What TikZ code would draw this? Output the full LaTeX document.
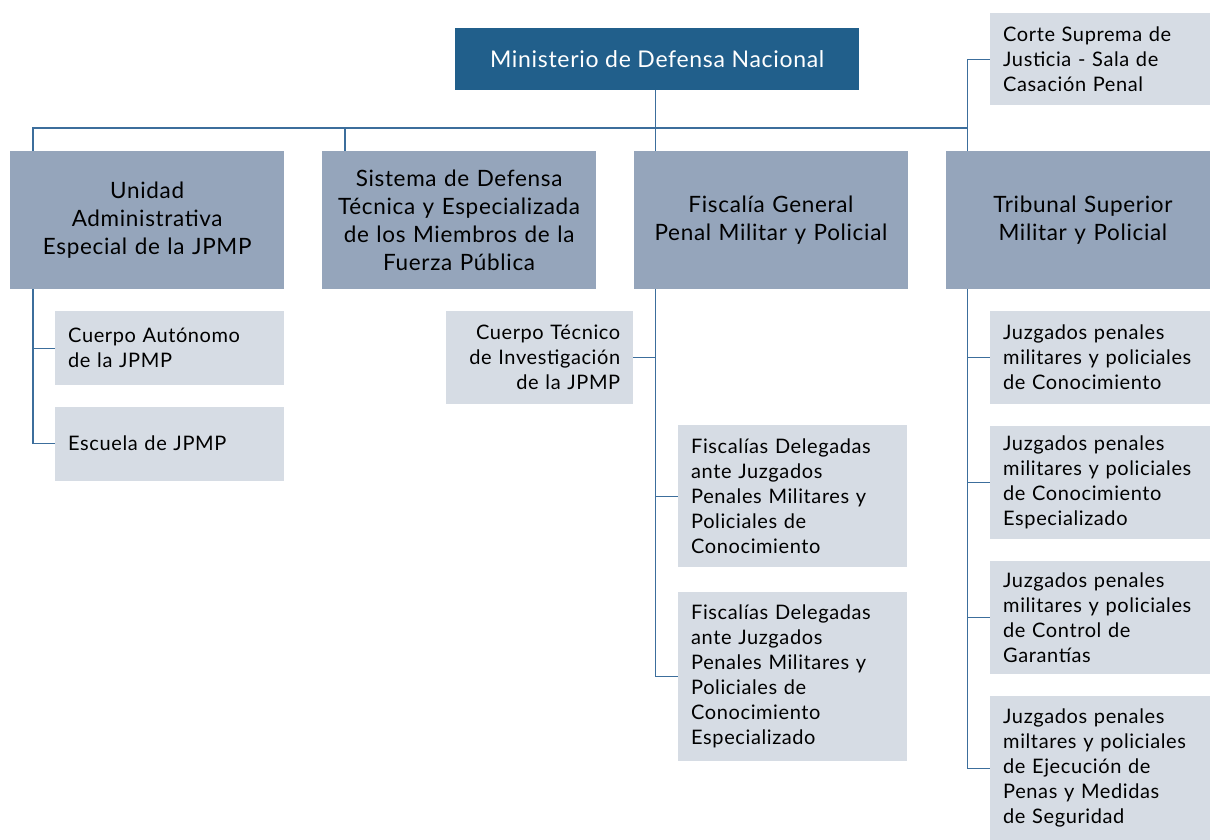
\documentclass[tikz,border=0pt]{standalone}
\usepackage{fontspec}
\setmainfont{Lato}[LetterSpace=3]
\usepackage{tikz}
\usetikzlibrary{positioning}

\definecolor{deepblue}{HTML}{215F8B}
\definecolor{midblue}{HTML}{95A5BB}
\definecolor{paleblue}{HTML}{D6DCE4}
\definecolor{linkblue}{HTML}{3C6E9C}

\tikzset{
	orgbox/.style={anchor=north west, inner ysep=0pt, text=black, font=\fontsize{20}{25}\selectfont},
	topbox/.style={orgbox, fill=deepblue, text=white, minimum width=404pt, minimum height=62pt, font=\fontsize{23}{28}\selectfont},
	mainbox/.style={orgbox, fill=midblue, inner xsep=8pt, text width=258pt, minimum height=138pt, align=center, font=\fontsize{22.5}{28}\selectfont},
	subbox/.style={orgbox, fill=paleblue, inner xsep=13pt, text width=#1, align=left},
	subbox/.default=203pt,
	link/.style={draw=linkblue, line width=1.2pt}
}

\begin{document}
\begin{tikzpicture}[x=1pt, y=-1pt, node distance=22pt and 37.5pt]
		\useasboundingbox (0,0) rectangle (1210,840);
		% Nodes
		\node[topbox] (M) at (455,28) {Ministerio de Defensa Nacional};
		\node[subbox=196pt, minimum height=92pt] (C) at (990,13) {Corte Suprema de\\Justicia - Sala de\\Casación Penal};

		\node[mainbox] (U) at (10,151) {Unidad\\Administrativa\\Especial de la JPMP};
		\node[mainbox] (S) [right=of U] {Sistema de Defensa\\Técnica y Especializada\\de los Miembros de la\\Fuerza Pública};
		\node[mainbox] (F) [right=of S] {Fiscalía General\\Penal Militar y Policial};
		\node[mainbox] (T) [right=of F] {Tribunal Superior\\Militar y Policial};

		\node[subbox, minimum height=74pt] (CA) at (55,311) {Cuerpo Autónomo\\de la JPMP};
		\node[subbox, minimum height=74pt] (EJ) [below=21pt of CA] {Escuela de JPMP};

		\node[subbox=161pt, align=right, minimum height=93pt] (CT) at (446,311) {Cuerpo Técnico\\de Investigación\\de la JPMP};
		\node[subbox, minimum height=142pt] (FD1) at (678,425) {Fiscalías Delegadas\\ante Juzgados\\Penales Militares y\\Policiales de\\Conocimiento};
		\node[subbox, minimum height=169pt] (FD2) [below=24pt of FD1] {Fiscalías Delegadas\\ante Juzgados\\Penales Militares y\\Policiales de\\Conocimiento\\Especializado};

		\node[subbox=196pt, minimum height=93pt] (J1) at (990,311) {Juzgados penales\\militares y policiales\\de Conocimiento};
		\node[subbox=196pt, minimum height=113pt] (J2) [below=21pt of J1] {Juzgados penales\\militares y policiales\\de Conocimiento\\Especializado};
		\node[subbox=196pt, minimum height=113pt] (J3) [below=of J2] {Juzgados penales\\militares y policiales\\de Control de\\Garantías};
		\node[subbox=196pt, minimum height=144pt] (J4) [below=of J3] {Juzgados penales\\miltares y policiales\\de Ejecución de\\Penas y Medidas\\de Seguridad};

		% Trunk points
		\coordinate (bus) at (0,128);
		\coordinate (uT) at ([xshift=23pt]U.north west);
		\coordinate (sT) at ([xshift=23pt]S.north west);
		\coordinate (fT) at ([xshift=22pt]F.north west);
		\coordinate (tT) at ([xshift=22pt]T.north west);
		\coordinate (uB) at ([xshift=23pt]U.south west);
		\coordinate (fB) at ([xshift=22pt]F.south west);
		\coordinate (tB) at ([xshift=22pt]T.south west);

		%Lines
		\draw[link] (uT) |- (bus -| tT) -- (tT);
		\draw[link] (sT) -- (sT |- bus);
		\draw[link] (M.south -| fT) -- (fT);
		\draw[link] (tT) |- (C.west);

		\draw[link] (uB) |- (CA.west);
		\draw[link] (uB) |- (EJ.west);

		\draw[link] (fB) |- (CT.east);
		\draw[link] (fB) |- (FD1.west);
		\draw[link] (fB) |- (FD2.west);

		\draw[link] (tB) |- (J1.west);
		\draw[link] (tB) |- (J2.west);
		\draw[link] (tB) |- (J3.west);
		\draw[link] (tB) |- (J4.west);
	\end{tikzpicture}
\end{document}
